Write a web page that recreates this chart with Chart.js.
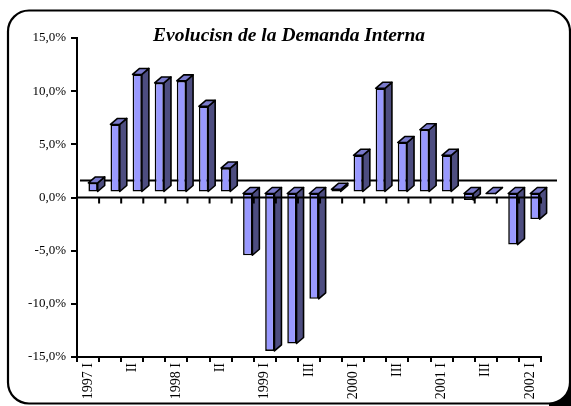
<!DOCTYPE html>
<html>
<head>
<meta charset="utf-8">
<script src="https://cdn.jsdelivr.net/npm/chart.js@4"></script>
<style>
  body { margin: 0; background: #fff; }
</style>
</head>
<body>
<canvas id="chart" width="571" height="406"></canvas>
<script>
// categories (only every second quarter carries a label, as in the original)
var quarters = ["1997 I", "", "II", "", "1998 I", "", "II", "", "1999 I", "", "III", "",
                "2000 I", "", "III", "", "2001 I", "", "III", "", "2002 I"];
// growth of internal demand, %
var demanda = [0.9, 6.4, 11.1, 10.3, 10.5, 8.1, 2.3, -5.9, -14.9, -14.2, -10.0, 0.3,
               3.5, 9.8, 4.7, 5.9, 3.5, -0.7, -0.1, -4.9, -2.5];
var yTicks = [-15, -10, -5, 0, 5, 10, 15];
var titulo = "Evolucisn de la Demanda Interna";

var serif = "'Liberation Serif', 'Times New Roman', serif";
var front = '#9999FF', topFace = '#7A7ACC', sideFace = '#4D4D80';
var dx = 7, dy = 6; // bar depth

var frame = {
  id: 'frame',
  beforeDraw: function (c) {
    var ctx = c.ctx;
    ctx.save();
    ctx.fillStyle = '#fff';
    ctx.fillRect(0, 0, c.width, c.height);
    // little shadow at bottom right corner
    ctx.fillStyle = '#000';
    ctx.fillRect(549, 382, 22, 24);
    ctx.beginPath();
    ctx.roundRect(8, 10.5, 562, 393, 21);
    ctx.fillStyle = '#fff';
    ctx.fill();
    ctx.lineWidth = 2.2;
    ctx.strokeStyle = '#000';
    ctx.stroke();
    ctx.restore();
  },
  afterDraw: function (c) {
    var ctx = c.ctx;
    ctx.save();
    ctx.font = 'italic bold 19.5px ' + serif;
    ctx.fillStyle = '#000';
    ctx.textAlign = 'center';
    ctx.fillText(titulo, 289, 41);
    ctx.restore();
  }
};

var bars3d = {
  id: 'bars3d',
  beforeDatasetsDraw: function (c) {
    var ctx = c.ctx, area = c.chartArea;
    var y0 = c.scales.y.getPixelForValue(0);
    // zero line on the back wall
    ctx.save();
    ctx.strokeStyle = '#000';
    ctx.lineWidth = 2;
    ctx.beginPath();
    ctx.moveTo(area.left + 3, y0 - 17);
    ctx.lineTo(area.right + 16, y0 - 17);
    ctx.stroke();
    ctx.restore();
    ctx.save();
    ctx.translate(5, -5);
  },
  afterDatasetsDraw: function (c) {
    var ctx = c.ctx;
    ctx.lineWidth = 1.6;
    ctx.strokeStyle = '#000';
    ctx.lineJoin = 'round';
    c.getDatasetMeta(0).data.forEach(function (bar) {
      var p = bar.getProps(['x', 'y', 'base', 'width'], true);
      var l = p.x - p.width / 2, r = p.x + p.width / 2;
      var t = Math.min(p.y, p.base), b = Math.max(p.y, p.base);
      ctx.beginPath();
      ctx.moveTo(r, t); ctx.lineTo(r + dx, t - dy); ctx.lineTo(r + dx, b - dy); ctx.lineTo(r, b);
      ctx.closePath();
      ctx.fillStyle = sideFace; ctx.fill(); ctx.stroke();
      ctx.beginPath();
      ctx.moveTo(l, t); ctx.lineTo(l + dx, t - dy); ctx.lineTo(r + dx, t - dy); ctx.lineTo(r, t);
      ctx.closePath();
      ctx.fillStyle = topFace; ctx.fill(); ctx.stroke();
    });
    ctx.restore();

    // front zero line with its tick marks
    var area = c.chartArea, x = c.scales.x;
    var y0 = c.scales.y.getPixelForValue(0);
    var step = x.getPixelForValue(1) - x.getPixelForValue(0);
    ctx.save();
    ctx.strokeStyle = '#000';
    ctx.lineWidth = 2;
    ctx.beginPath();
    ctx.moveTo(area.left, y0);
    ctx.lineTo(area.right, y0);
    for (var i = 1; i <= quarters.length; i++) {
      var xp = x.getPixelForValue(i) - step / 2;
      ctx.moveTo(xp, y0);
      ctx.lineTo(xp, y0 + 6);
    }
    ctx.stroke();
    ctx.restore();
  }
};

new Chart(document.getElementById('chart'), {
  type: 'bar',
  data: {
    labels: quarters,
    datasets: [{
      data: demanda,
      backgroundColor: front,
      borderColor: '#000',
      borderWidth: 1.6,
      borderSkipped: false,
      barPercentage: 0.42,
      categoryPercentage: 1,
      clip: false
    }]
  },
  options: {
    responsive: false,
    animation: false,
    layout: { padding: { top: 38, right: 30, bottom: 0, left: 0 } },
    plugins: { legend: { display: false }, tooltip: { enabled: false } },
    scales: {
      x: {
        afterFit: function (s) { s.height = 49; },
        grid: { drawOnChartArea: false, color: '#000', lineWidth: 2, tickLength: 5 },
        border: { color: '#000', width: 2 },
        ticks: {
          autoSkip: false, maxRotation: 90, minRotation: 90, padding: 1,
          color: '#000', font: { family: serif, size: 14 }
        }
      },
      y: {
        min: yTicks[0],
        max: yTicks[yTicks.length - 1],
        afterFit: function (s) { s.width = 77; },
        afterBuildTicks: function (s) { s.ticks = yTicks.map(function (v) { return { value: v }; }); },
        grid: { drawOnChartArea: false, color: '#000', lineWidth: 2, tickLength: 6 },
        border: { color: '#000', width: 2 },
        ticks: {
          padding: 5, color: '#000', font: { family: serif, size: 13 },
          callback: function (v) { return v.toFixed(1).replace('.', ',') + '%'; }
        }
      }
    }
  },
  plugins: [frame, bars3d]
});
</script>
</body>
</html>
